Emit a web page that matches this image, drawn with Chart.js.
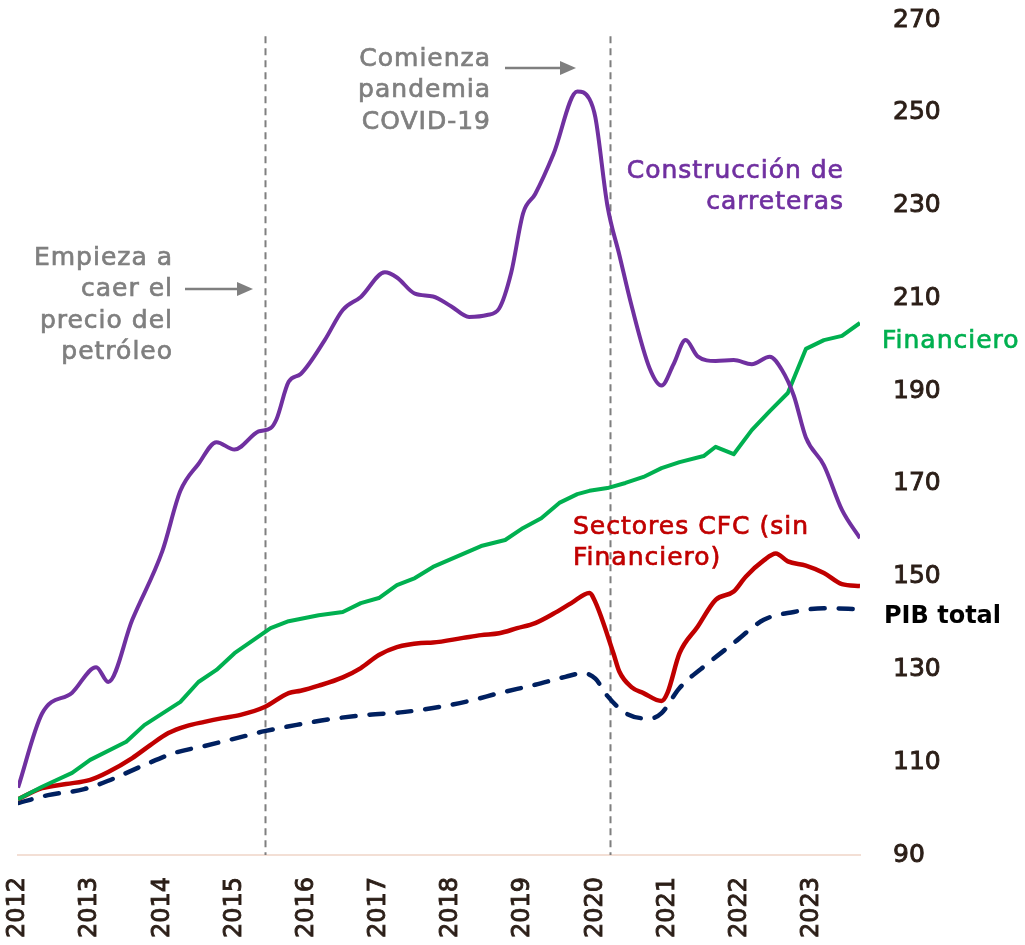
<!DOCTYPE html>
<html>
<head>
<meta charset="utf-8">
<script src="https://cdn.jsdelivr.net/npm/chart.js@4.4.1/dist/chart.umd.min.js"></script>
<style>
  html, body { margin: 0; padding: 0; background: #ffffff; overflow: hidden; }
  canvas { display: block; }
</style>
</head>
<body>
<canvas id="chart" width="1025" height="945"></canvas>
<script>
// months counted from Jan 2012 (0) to Sep 2023 (140)
const yearTicks = [2012, 2013, 2014, 2015, 2016, 2017, 2018, 2019, 2020, 2021, 2022, 2023];
const eventMonths = [41, 98.5]; // oil price drop, COVID-19

const roadMonths = [0, 4, 9, 13, 15, 19, 24, 27, 30, 33, 36, 40, 42, 43, 45, 47, 51, 54, 57, 61, 63, 66, 69, 72, 75, 78, 80, 82, 84, 86, 89, 93, 95, 96, 98, 100, 102, 105, 107, 109, 111, 113, 116, 119, 122, 125, 127, 129, 131, 134, 137, 140];
const roadValues = [104.5, 120.5, 125, 130.5, 127.3, 140.7, 155.5, 168.5, 174.3, 179, 177.4, 181.3, 182, 184, 192, 193.7, 201, 207.5, 210.3, 215.6, 214.5, 211, 210.4, 208.3, 206, 206.4, 207.8, 215.5, 228.4, 232.5, 241, 254.6, 253, 249, 230, 219.3, 208.5, 195, 191.2, 195.8, 201, 197.5, 196.5, 196.7, 195.8, 197.4, 194.6, 189, 180, 174, 164.4, 158.3];

const finMonths = [0, 4, 9, 12, 18, 21, 27, 30, 33, 36, 42, 45, 50, 54, 57, 60, 63, 66, 69, 77, 81, 84, 87, 90, 93, 95, 98, 101, 104, 107, 110, 114, 116, 119, 122, 125, 128, 131, 134, 137, 140];
const finValues = [102, 104.7, 107.7, 110.5, 114.4, 118, 123, 127.3, 129.9, 133.5, 138.9, 140.4, 141.7, 142.4, 144.3, 145.4, 148.2, 149.7, 152.1, 156.6, 157.9, 160.5, 162.6, 165.9, 167.8, 168.5, 169.1, 170.2, 171.5, 173.4, 174.7, 176, 178, 176.4, 181.6, 185.7, 189.6, 199.1, 201, 201.9, 204.7];

const cfcMonths = [0, 4, 8, 12, 15, 19, 22, 25, 28, 31, 34, 37, 41, 45, 47, 50, 54, 57, 60, 63, 67, 69, 74, 77, 80, 83, 86, 89, 92, 95, 96, 99, 100, 102, 104, 107, 108, 110, 113, 116, 119, 121, 124, 126, 128, 131, 134, 137, 140];
const cfcValues = [102, 104.4, 105.3, 106.2, 107.9, 110.9, 113.7, 116.3, 117.8, 118.7, 119.5, 120.2, 121.9, 124.9, 125.4, 126.5, 128.3, 130.3, 133.1, 134.8, 135.7, 135.8, 136.8, 137.4, 137.8, 138.9, 140, 142, 144.3, 146.5, 144.5, 133.5, 129.5, 126.2, 124.9, 123.2, 125, 133.5, 139.2, 145, 146.8, 150, 153.5, 155, 153.3, 152.4, 150.8, 148.4, 148];

const pibMonths = [0, 5, 11, 15, 21, 26, 31, 37, 41, 47, 52, 58, 64, 69, 75, 80, 86, 91, 94, 96, 98, 101, 105, 107, 110, 115, 119, 124, 129, 134, 140];
const pibValues = [101.2, 102.9, 104.2, 106, 109.4, 112, 113.5, 115.4, 116.7, 118.2, 119.3, 120.2, 120.8, 121.7, 123.2, 124.9, 126.7, 128.4, 129.2, 128, 124.3, 120.6, 119.4, 120.6, 126, 131.6, 135.7, 140.7, 142.4, 143.2, 143];

const FONT = "'DejaVu Sans', sans-serif";
const GRAY = '#7f7f7f';
const INK = '#2b1e17';

function points(months, values) {
  return months.map((m, i) => ({ x: m, y: values[i] }));
}

// dashed vertical event lines (behind the series)
const eventLines = {
  id: 'eventLines',
  beforeDatasetsDraw(chart) {
    const { ctx, scales: { x, y } } = chart;
    ctx.save();
    ctx.strokeStyle = GRAY;
    ctx.lineWidth = 2;
    ctx.setLineDash([7, 5]);
    eventMonths.forEach(m => {
      const px = Math.round(x.getPixelForValue(m)) + 0.5;
      ctx.beginPath();
      ctx.moveTo(px, y.getPixelForValue(266.5));
      ctx.lineTo(px, y.getPixelForValue(90));
      ctx.stroke();
    });
    ctx.restore();
  }
};

// text notes and arrows
const notes = {
  id: 'notes',
  afterDraw(chart) {
    const ctx = chart.ctx;
    ctx.save();
    ctx.textBaseline = 'middle';

    function block(lines, x, y, align, color, font, spacing, stroke) {
      ctx.font = font;
      ctx.fillStyle = color;
      ctx.strokeStyle = color;
      ctx.lineWidth = stroke;
      ctx.textAlign = align;
      ctx.letterSpacing = spacing || '0px';
      lines.forEach((t, i) => {
        // letterSpacing adds trailing space on right-aligned text; compensate
        const shift = align === 'right' ? parseFloat(spacing || 0) : 0;
        ctx.fillText(t, x + shift, y + i * 31.5);
        if (stroke) ctx.strokeText(t, x + shift, y + i * 31.5);
      });
      ctx.letterSpacing = '0px';
    }
    function arrow(x1, x2, y) {
      ctx.strokeStyle = GRAY;
      ctx.fillStyle = GRAY;
      ctx.lineWidth = 2.5;
      ctx.beginPath();
      ctx.moveTo(x1, y);
      ctx.lineTo(x2 - 14, y);
      ctx.stroke();
      ctx.beginPath();
      ctx.moveTo(x2, y);
      ctx.lineTo(x2 - 16, y - 7);
      ctx.lineTo(x2 - 16, y + 7);
      ctx.closePath();
      ctx.fill();
    }

    const f25 = '25px ' + FONT;
    block(['Empieza a', 'caer el', 'precio del', 'petróleo'], 172, 258, 'right', GRAY, f25, '1px', 0.7);
    arrow(185, 253, 289);
    block(['Comienza', 'pandemia', 'COVID-19'], 490, 59, 'right', GRAY, f25, '1px', 0.7);
    arrow(505, 576, 68);
    block(['Construcción de', 'carreteras'], 843, 171, 'right', '#7030a0', f25, '1px', 0.7);
    block(['Sectores CFC (sin', 'Financiero)'], 573, 527, 'left', '#c00000', f25, '1px', 0.7);
    block(['Financiero'], 882, 341, 'left', '#00b050', f25, '1px', 0.7);
    block(['PIB total'], 884, 617, 'left', '#000000', 'bold 24px ' + FONT, '0px', 0);
    ctx.restore();
  }
};

new Chart(document.getElementById('chart'), {
  type: 'line',
  data: {
    datasets: [
      {
        label: 'Construcción de carreteras',
        data: points(roadMonths, roadValues),
        borderColor: '#7030a0',
        borderWidth: 4,
        cubicInterpolationMode: 'monotone'
      },
      {
        label: 'Financiero',
        data: points(finMonths, finValues),
        borderColor: '#00b050',
        borderWidth: 4,
        tension: 0
      },
      {
        label: 'Sectores CFC (sin Financiero)',
        data: points(cfcMonths, cfcValues),
        borderColor: '#c00000',
        borderWidth: 4.5,
        cubicInterpolationMode: 'monotone'
      },
      {
        label: 'PIB total',
        data: points(pibMonths, pibValues),
        borderColor: '#002060',
        borderWidth: 4.5,
        borderDash: [14, 14],
        borderCapStyle: 'round',
        cubicInterpolationMode: 'monotone'
      }
    ]
  },
  options: {
    responsive: false,
    animation: false,
    devicePixelRatio: 1,
    layout: { padding: { top: 20, left: 18, right: 0, bottom: 0 } },
    elements: { point: { radius: 0 }, line: { borderJoinStyle: 'round' } },
    plugins: {
      legend: { display: false },
      tooltip: { enabled: false }
    },
    scales: {
      x: {
        type: 'linear',
        min: 0,
        max: 140,
        grid: { display: false, drawTicks: false },
        border: { display: true, color: '#f3dfd5', width: 2 },
        afterFit(scale) {
          scale.height = 90;
          scale.paddingLeft = 0;
          scale.paddingRight = 0;
        },
        ticks: {
          stepSize: 12,
          includeBounds: false,
          autoSkip: false,
          minRotation: 90,
          maxRotation: 90,
          padding: 22,
          color: INK,
          textStrokeColor: INK,
          textStrokeWidth: 0.9,
          font: { family: FONT, size: 24 },
          callback: (v) => (v % 12 === 0 ? String(yearTicks[v / 12]) : '')
        }
      },
      y: {
        position: 'right',
        min: 90,
        max: 270,
        grid: { display: false, drawTicks: false },
        border: { display: false },
        afterFit(scale) {
          scale.width = 165;
          scale.paddingTop = 0;
          scale.paddingBottom = 0;
        },
        ticks: {
          stepSize: 20,
          padding: 33,
          color: INK,
          textStrokeColor: INK,
          textStrokeWidth: 0.9,
          font: { family: FONT, size: 25 }
        }
      }
    }
  },
  plugins: [eventLines, notes]
});
</script>
</body>
</html>
